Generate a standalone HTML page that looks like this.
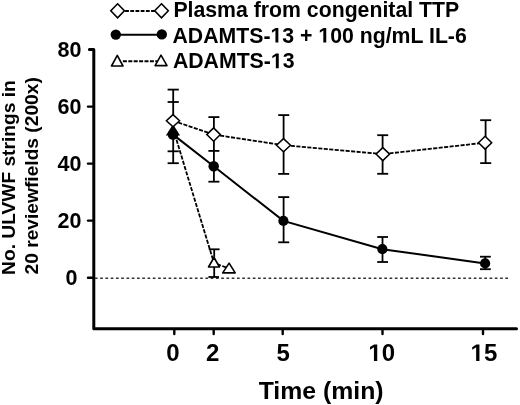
<!DOCTYPE html>
<html><head><meta charset="utf-8">
<style>
html,body{margin:0;padding:0;background:#fff;width:520px;height:405px;overflow:hidden}
svg{display:block;will-change:transform}
text{font-family:"Liberation Sans",sans-serif;font-weight:bold;fill:#000}
.h{fill:none}
</style></head><body>
<svg width="520" height="405" viewBox="0 0 520 405">
<defs><path id="one" d="M478 0V-1170L140 -959V-1180L493 -1409H759V0Z"/></defs>
<!-- legend -->
<g stroke="#000" fill="#fff">
  <line x1="125.1" y1="11" x2="155" y2="11" stroke-width="2" stroke-dasharray="3.8 1.4"/>
  <path d="M117.6 3.8 L124.4 10.8 L117.6 17.8 L110.8 10.8 Z" stroke-width="1.6"/>
  <path d="M161.5 3.8 L168.3 10.8 L161.5 17.8 L154.7 10.8 Z" stroke-width="1.6"/>
  <line x1="116" y1="34.8" x2="162" y2="34.8" stroke-width="1.9"/>
  <circle cx="115.8" cy="34.6" r="5.2" fill="#000" stroke="none"/>
  <circle cx="161.8" cy="34.4" r="5.2" fill="#000" stroke="none"/>
  <line x1="122.9" y1="61.3" x2="157" y2="61.3" stroke-width="2" stroke-dasharray="4 1.4"/>
  <path d="M117.3 55.4 L123 66 L111.5 66 Z" stroke-width="1.6" stroke-linejoin="round"/>
  <path d="M161 55.1 L167 65.6 L155.1 65.6 Z" stroke-width="1.6" stroke-linejoin="round"/>
</g>
<text x="173.4" y="16.8" font-size="21.25">Plasma from congenital TTP</text>
<text x="172.5" y="42.6" font-size="21.25">ADAMTS-<tspan class="h">1</tspan>3 + <tspan class="h">1</tspan>00 ng/mL IL-6</text>
<text x="172.9" y="68.2" font-size="21.25">ADAMTS-<tspan class="h">1</tspan>3</text>

<!-- axes -->
<g stroke="#000" fill="none" stroke-width="3">
  <path d="M89.4 49.5 H93.8 V328.7 H516.5" stroke-linejoin="round" stroke-linecap="round"/>
</g>
<g stroke="#000" stroke-width="2.4" stroke-linecap="round">
  <line x1="88" y1="106.6" x2="93" y2="106.6"/>
  <line x1="88" y1="163.6" x2="93" y2="163.6"/>
  <line x1="88" y1="220.6" x2="93" y2="220.6"/>
  <line x1="88" y1="277.7" x2="93" y2="277.7"/>
  <line x1="174.3" y1="330" x2="174.3" y2="334"/>
  <line x1="213.7" y1="330" x2="213.7" y2="334"/>
  <line x1="282.7" y1="330" x2="282.7" y2="334"/>
  <line x1="382.5" y1="330" x2="382.5" y2="334"/>
  <line x1="483" y1="330" x2="483" y2="334"/>
</g>
<line x1="94.9" y1="278.2" x2="508.2" y2="278.2" stroke="#333" stroke-width="1.35" stroke-dasharray="2.7 2.562"/>

<!-- y tick labels -->
<g font-size="21.5" text-anchor="end">
<text x="81.5" y="57.2">80</text>
<text x="81.5" y="114.2">60</text>
<text x="81.5" y="171">40</text>
<text x="81.5" y="228">20</text>
<text x="77.5" y="285.2">0</text>
</g>
<!-- x tick labels -->
<g font-size="24" text-anchor="middle">
<text x="173" y="361.0">0</text>
<text x="212.8" y="360.9">2</text>
<text x="283.1" y="361.0">5</text>
<text x="381.7" y="360.9"><tspan class="h">1</tspan>0</text>
<text x="483.9" y="361.0"><tspan class="h">1</tspan>5</text>
</g>
<text x="321.1" y="399.1" font-size="24.8" text-anchor="middle">Time (min)</text>

<!-- y axis title -->
<g font-size="19.2">
<text transform="translate(15.0 274.9) rotate(-90)">No. ULVWF strings in</text>
<text transform="translate(38 274.5) rotate(-90)">20 reviewfields (200x)</text>
</g>

<!-- error bars -->
<g stroke="#000" stroke-width="1.8" fill="none">
  <line x1="173.2" y1="89.6" x2="173.2" y2="163.2"/>
  <line x1="167.6" y1="89.6" x2="178.8" y2="89.6"/>
  <line x1="167.6" y1="102" x2="178.8" y2="102"/>
  <line x1="167.6" y1="151.3" x2="178.8" y2="151.3"/>
  <line x1="167.6" y1="163.2" x2="178.8" y2="163.2"/>

  <line x1="213.9" y1="117.1" x2="213.9" y2="181.7"/>
  <line x1="208.4" y1="117.1" x2="219.4" y2="117.1"/>
  <line x1="208.4" y1="150.9" x2="219.4" y2="150.9"/>
  <line x1="208.4" y1="181.7" x2="219.4" y2="181.7"/>
  <line x1="214.2" y1="249.3" x2="214.2" y2="277"/>
  <line x1="208.8" y1="249.3" x2="219.6" y2="249.3"/>
  <line x1="208.4" y1="277" x2="219" y2="277"/>

  <line x1="283.6" y1="115.1" x2="283.6" y2="173.9"/>
  <line x1="278.2" y1="115.1" x2="289.2" y2="115.1"/>
  <line x1="278.2" y1="173.9" x2="289.2" y2="173.9"/>
  <line x1="283.6" y1="197.1" x2="283.6" y2="242.3"/>
  <line x1="278.2" y1="197.1" x2="289.2" y2="197.1"/>
  <line x1="278.2" y1="242.3" x2="289.2" y2="242.3"/>

  <line x1="382.6" y1="135.2" x2="382.6" y2="173.8"/>
  <line x1="377.2" y1="135.2" x2="388.2" y2="135.2"/>
  <line x1="377.2" y1="173.8" x2="388.2" y2="173.8"/>
  <line x1="382.5" y1="237" x2="382.5" y2="262"/>
  <line x1="377.2" y1="237" x2="388" y2="237"/>
  <line x1="377.2" y1="262" x2="388" y2="262"/>

  <line x1="485.6" y1="120.2" x2="485.6" y2="163.1"/>
  <line x1="480.2" y1="120.2" x2="491.2" y2="120.2"/>
  <line x1="480.2" y1="163.1" x2="491.2" y2="163.1"/>
  <line x1="485.3" y1="256.7" x2="485.3" y2="269.2"/>
  <line x1="480" y1="256.7" x2="490.8" y2="256.7"/>
  <line x1="480" y1="269.2" x2="490.8" y2="269.2"/>
</g>

<!-- series lines -->
<polyline points="173.3,129.3 214,263 229,268.5" fill="none" stroke="#000" stroke-width="1.8" stroke-dasharray="4.1 1.4"/>
<polyline points="173.1,134.6 213.7,166.2 283.4,220.9 382.4,249.2 485.1,263.4" fill="none" stroke="#000" stroke-width="2"/>
<polyline points="173,120.7 213.6,134.6 283.5,145.2 382.8,154.1 485.1,142.7" fill="none" stroke="#000" stroke-width="1.8" stroke-dasharray="4.1 1.4"/>

<!-- markers: triangles -->
<g stroke="#000" stroke-width="1.6" fill="#fff" stroke-linejoin="round">
  <path d="M173 124.2 L180.1 135.5 L165.9 135.5 Z" fill="#000" stroke="none"/>
  <path d="M214 257.5 L219.5 267 L208.5 267 Z"/>
  <path d="M229.1 263.1 L235.2 272.9 L222.7 272.9 Z"/>
</g>
<!-- circles -->
<g fill="#000">
  <circle cx="173" cy="134.6" r="5.3"/>
  <circle cx="213.7" cy="166.2" r="5.25"/>
  <circle cx="283.4" cy="220.9" r="5.1"/>
  <circle cx="382.4" cy="249.2" r="5.1"/>
  <circle cx="485.1" cy="263.4" r="5.1"/>
</g>
<!-- diamonds -->
<g stroke="#000" stroke-width="1.5" fill="#fff">
  <path d="M173 114.6 L179.6 120.7 L173 126.8 L166.4 120.7 Z"/>
  <path d="M213.6 127.9 L220.4 134.6 L213.6 141.3 L206.8 134.6 Z"/>
  <path d="M283.5 138.6 L290.5 145.2 L283.5 151.8 L276.5 145.2 Z"/>
  <path d="M382.8 147.6 L389.6 154.1 L382.8 160.6 L376.0 154.1 Z"/>
  <path d="M485.1 136.3 L491.7 142.7 L485.1 149.1 L478.5 142.7 Z"/>
</g>
<!-- footless ones -->
<use href="#one" transform="translate(270.484 42.6) scale(0.010376)"/>
<use href="#one" transform="translate(318.359 42.6) scale(0.010376)"/>
<use href="#one" transform="translate(270.884 68.2) scale(0.010376)"/>
<use href="#one" transform="translate(368.341 360.9) scale(0.011719)"/>
<use href="#one" transform="translate(470.541 361.0) scale(0.011719)"/>
</svg>
</body></html>
